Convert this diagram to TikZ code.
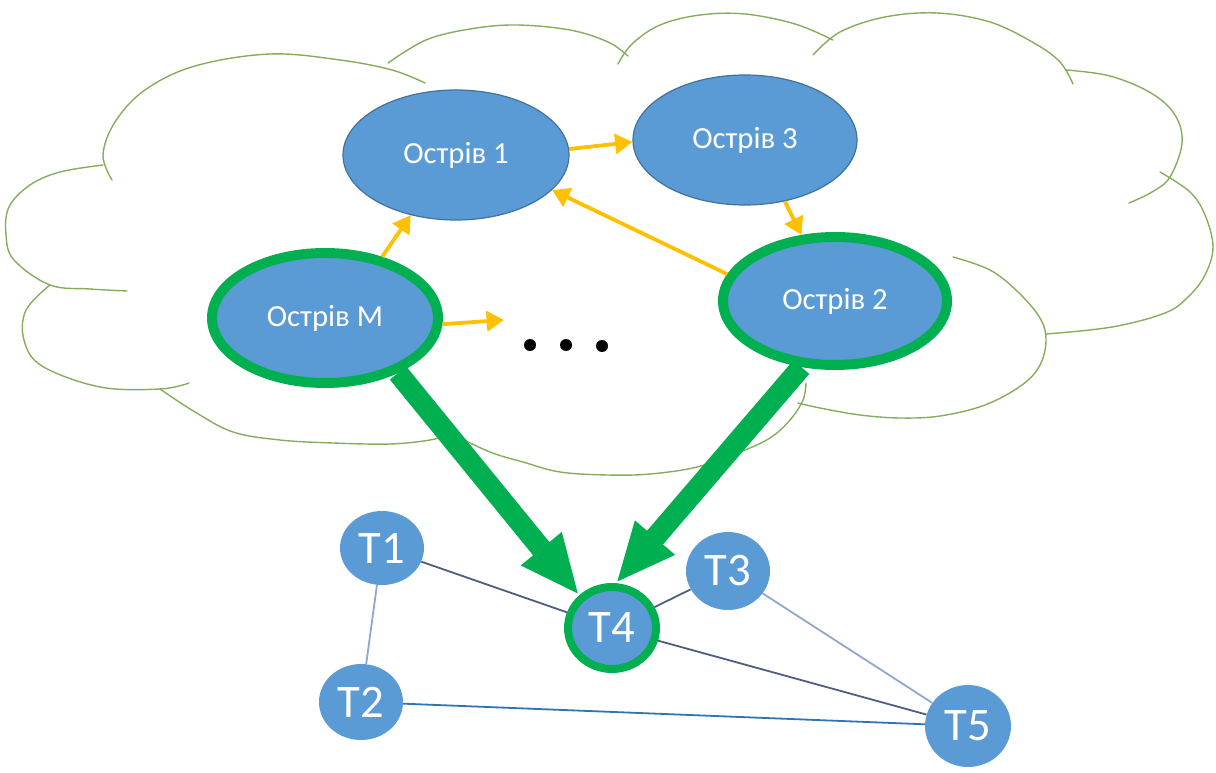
\documentclass[tikz,border=0pt]{standalone}
\usepackage{fontspec}
\setmainfont{Carlito}
\usetikzlibrary{arrows.meta,shapes.geometric}
\newdimen\pxu \pxu=0.75pt
\definecolor{nodeblue}{HTML}{5B9BD5}
\definecolor{nodeedge}{HTML}{41719C}
\definecolor{islegreen}{HTML}{00B050}
\definecolor{flowgold}{HTML}{FFC000}
\definecolor{cloudgreen}{HTML}{86AD5E}
\definecolor{linkdark}{HTML}{4E5E82}
\definecolor{linklight}{HTML}{8FA6CF}
\definecolor{linkblue}{HTML}{2E75B6}
\tikzset{
  cloudline/.style={draw=cloudgreen, line width=1.4\pxu, line cap=round},
  island/.style={ellipse, fill=nodeblue, draw=nodeedge, line width=1.2\pxu, inner sep=0pt,
    text=white, font=\fontsize{23}{27}\selectfont},
  mainisland/.style={island, draw=islegreen, line width=10\pxu},
  tnode/.style={ellipse, fill=nodeblue, inner sep=0pt, text=white,
    font=\fontsize{35}{40}\selectfont},
  flow/.style={draw=flowgold, line width=3.8\pxu,
    -{Triangle[length=13pt, width=15pt]}},
  migrate/.style={draw=islegreen, line width=21\pxu,
    -{Triangle[length=45pt, width=36pt]}},
  link/.style={line width=1.8\pxu},
  dotmark/.style={circle, fill=black, inner sep=0pt, minimum size=12\pxu}
}
\begin{document}
\begin{tikzpicture}[x=0.75pt, y=-0.75pt]
\useasboundingbox (0,0) rectangle (1216,773);

% cloud outline, one puff at a time
\draw[cloudline] plot[smooth, tension=0.6] coordinates {(112,180) (103,155) (115,122) (145,90) (195,66) (270,54) (340,60) (392,70) (425,83)};
\draw[cloudline] plot[smooth, tension=0.6] coordinates {(388,63) (426,40) (470,29) (516,25) (570,30) (608,42) (628,56)};
\draw[cloudline] plot[smooth, tension=0.6] coordinates {(618,64) (632,44) (660,25) (700,15) (745,14) (795,24) (833,40)};
\draw[cloudline] plot[smooth, tension=0.6] coordinates {(813,55) (840,32) (885,17) (937,13) (990,22) (1034,43) (1060,62) (1073,84)};
\draw[cloudline] plot[smooth, tension=0.6] coordinates {(1066,70) (1110,76) (1151,93) (1175,115) (1182,143) (1170,177) (1152,192) (1129,203)};
\draw[cloudline] plot[smooth, tension=0.6] coordinates {(1160,172) (1190,192) (1205,215) (1213,247) (1205,275) (1188,297) (1165,313) (1112,327) (1046,334)};
\draw[cloudline] plot[smooth, tension=0.6] coordinates {(953,257) (990,270) (1018,292) (1040,318) (1046,340) (1040,365) (1022,385) (985,405) (940,416) (900,418) (860,415) (820,408) (798,403)};
\draw[cloudline] plot[smooth, tension=0.6] coordinates {(806,383) (803,400) (790,420) (770,438) (740,452) (697,467) (650,474) (608,475) (560,472) (523,462) (490,452) (452,434)};
\draw[cloudline] plot[smooth, tension=0.6] coordinates {(452,434) (430,440) (390,444) (333,443) (280,440) (233,432) (195,412) (160,389)};
\draw[cloudline] plot[smooth, tension=0.6] coordinates {(50,285) (26,310) (24,340) (42,366) (100,387) (160,389) (189,383)};
\draw[cloudline] plot[smooth, tension=0.6] coordinates {(103,165) (60,172) (30,185) (9,207) (6,235) (14,260) (50,285) (90,289) (127,291)};

% islands
\node[island, minimum width=226\pxu, minimum height=130\pxu] (I1) at (456,155) {Острів 1};
\node[island, minimum width=224\pxu, minimum height=130\pxu] (I3) at (745,140) {Острів 3};
\node[mainisland, minimum width=226\pxu, minimum height=130\pxu] (IM) at (325,318) {Острів М};
\node[mainisland, minimum width=224\pxu, minimum height=128\pxu] (I2) at (835,301) {Острів 2};

% the "and so on" marker
\node[dotmark] (d1) at (530,345) {};
\node[dotmark] (d2) at (566,345) {};
\node[dotmark] (d3) at (602,346) {};
\coordinate (more) at (504,320);

% exchanges between islands
\draw[flow] (IM.47) -- (I1.233);
\draw[flow] (I1.3) -- (I3.181);
\draw[flow] (I3.-57) -- (I2.117);
\draw[flow] (I2.166) -- (I1.-20);
\draw[flow] (IM.-3) -- (more);

% lower graph
\node[tnode, minimum width=84\pxu, minimum height=74\pxu] (T1) at (382,548) {T1};
\node[tnode, minimum width=84\pxu, minimum height=76\pxu] (T2) at (361,702) {T2};
\node[tnode, minimum width=84\pxu, minimum height=78\pxu] (T3) at (728,571) {T3};
\node[tnode, draw=islegreen, line width=8\pxu, minimum width=88\pxu, minimum height=82\pxu] (T4) at (612,628) {T4};
\node[tnode, minimum width=86\pxu, minimum height=82\pxu] (T5) at (968,726) {T5};

\draw[link, draw=linkdark] (T1) -- (T4);
\draw[link, draw=linklight] (T1) -- (T2);
\draw[link, draw=linkblue] (T2) -- (T5);
\draw[link, draw=linkdark] (T4) -- (T3);
\draw[link, draw=linklight] (T3) -- (T5);
\draw[link, draw=linkdark] (T4) -- (T5);

% the two best islands feed T4
\draw[migrate] (IM.-37) -- (T4.135);
\draw[migrate] (I2.243) -- (T4.85);
\end{tikzpicture}
\end{document}
